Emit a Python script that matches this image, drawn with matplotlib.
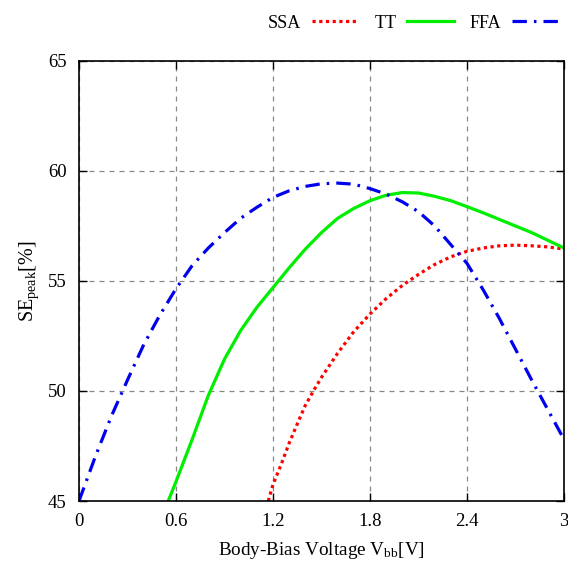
import matplotlib
matplotlib.use("Agg")
import matplotlib.pyplot as plt

plt.rcParams['font.family'] = ['Liberation Serif', 'DejaVu Serif']
plt.rcParams['mathtext.fontset'] = 'custom'
plt.rcParams['mathtext.rm'] = 'Liberation Serif'
plt.rcParams['mathtext.it'] = 'Liberation Serif:italic'

# data
x_ssa = [1.171, 1.2, 1.25, 1.3, 1.35, 1.4, 1.45, 1.5, 1.6, 1.7, 1.8, 1.9,
         2.0, 2.1, 2.2, 2.3, 2.4, 2.5, 2.6, 2.7, 2.8, 2.9, 3.0]
y_ssa = [45.0, 45.75, 46.65, 47.63, 48.5, 49.35, 50.0, 50.62, 51.72, 52.7,
         53.5, 54.2, 54.8, 55.3, 55.75, 56.1, 56.35, 56.5, 56.6, 56.63,
         56.6, 56.55, 56.45]

x_tt = [0.552, 0.6, 0.7, 0.8, 0.9, 1.0, 1.1, 1.2, 1.3, 1.4, 1.5, 1.6, 1.7,
        1.8, 1.9, 2.0, 2.1, 2.2, 2.3, 2.4, 2.5, 2.6, 2.7, 2.8, 2.9, 3.0]
y_tt = [45.0, 45.88, 47.8, 49.8, 51.45, 52.75, 53.8, 54.7, 55.6, 56.45,
        57.2, 57.85, 58.3, 58.65, 58.9, 59.02, 59.0, 58.85, 58.65, 58.38,
        58.1, 57.8, 57.5, 57.2, 56.85, 56.5]

x_ffa = [0.0, 0.1, 0.2, 0.3, 0.4, 0.5, 0.6, 0.7, 0.8, 0.9, 1.0, 1.1, 1.2,
         1.3, 1.4, 1.5, 1.6, 1.7, 1.8, 1.9, 2.0, 2.1, 2.2, 2.3, 2.4, 2.5,
         2.6, 2.7, 2.8, 2.9, 3.0]
y_ffa = [45.0, 47.0, 48.85, 50.5, 52.1, 53.45, 54.65, 55.7, 56.5, 57.2,
         57.85, 58.35, 58.8, 59.1, 59.3, 59.42, 59.45, 59.4, 59.2, 58.95,
         58.6, 58.15, 57.5, 56.65, 55.8, 54.6, 53.3, 51.9, 50.5, 49.15, 47.8]

x_ticks = [0, 0.6, 1.2, 1.8, 2.4, 3]
x_labels = ['0', '0.6', '1.2', '1.8', '2.4', '3']
y_ticks = [45, 50, 55, 60, 65]

fig = plt.figure(figsize=(5.68, 5.63), dpi=100)
ax = fig.add_axes([79 / 568, 62 / 563, 485 / 568, 440 / 563])

ax.plot(x_ssa, y_ssa, color='#ff0000', lw=2.3, linestyle=(0, (1, 1.1)),
        label='SSA')
ax.plot(x_tt, y_tt, color='#00ee00', lw=2.3, label='TT')
ax.plot(x_ffa, y_ffa, color='#0000ee', lw=2.3,
        linestyle=(0, (4.5, 2.2, 0.8, 2.2)), label='FFA')

ax.set_xlim(0, 3)
ax.set_ylim(45, 65)
ax.set_xticks(x_ticks)
ax.set_xticklabels(x_labels)
ax.set_yticks(y_ticks)
ax.tick_params(direction='in', top=True, right=True, length=6, width=1,
               labelsize=13.5, pad=9)
ax.grid(True, color='#888888', linestyle=(0, (4, 4)), lw=0.9)
for s in ax.spines.values():
    s.set_linewidth(1.2)

ax.set_xlabel(r'Body-Bias Voltage V$_{\rm bb}$[V]', fontsize=13.8, labelpad=7)
ax.set_ylabel(r'SE$_{\rm peak}$[%]', fontsize=14.5, labelpad=5)

ax.legend(loc='center right', bbox_to_anchor=(559 / 568, 1 - 23 / 563),
          bbox_transform=fig.transFigure, ncol=3, frameon=False,
          markerfirst=False, fontsize=13, handlelength=2.6,
          columnspacing=0.85, handletextpad=0.6, borderpad=0,
          borderaxespad=0)

fig.savefig('out.png', dpi=100)
